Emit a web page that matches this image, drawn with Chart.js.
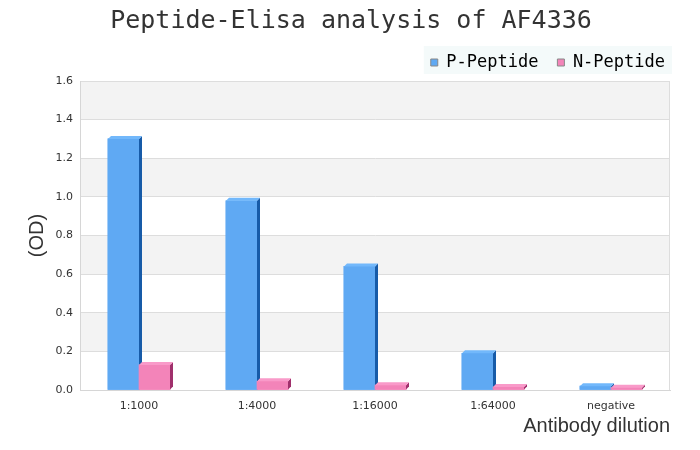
<!DOCTYPE html>
<html>
<head>
<meta charset="utf-8">
<title>Peptide-Elisa analysis of AF4336</title>
<script src="https://cdn.jsdelivr.net/npm/chart.js@4.4.1/dist/chart.umd.min.js"></script>
<style>
    html, body { margin: 0; padding: 0; background: #fff; }
    #wrap { width: 700px; height: 450px; }
</style>
</head>
<body>
<div id="wrap"><canvas id="elisaChart" width="700" height="450"></canvas></div>
<script>
// Chart data
const dilutions = ['1:1000', '1:4000', '1:16000', '1:64000', 'negative'];
const pPeptide = [1.30, 0.98, 0.64, 0.19, 0.02];
const nPeptide = [0.13, 0.045, 0.025, 0.015, 0.012];
const yTicks = [0, 0.2, 0.4, 0.6, 0.8, 1.0, 1.2, 1.4, 1.6];

// colours: front, side, top
const blueFaces = ['#5fa9f3', '#175ba8', '#72b8fb'];
const pinkFaces = ['#f384b9', '#a0306c', '#f99ac9'];

const DEPTH = 3;

// background, stripes and legend box
const backgroundPlugin = {
    id: 'backgroundPlugin',
    afterLayout(chart) {
        // the title is centred a bit right of the plot, the legend sits near the right edge
        chart.titleBlock.left += 16;
        chart.titleBlock.right += 16;
        chart.legend.left += 14;
        chart.legend.right += 14;
    },
    beforeDraw(chart) {
        const ctx = chart.ctx;
        const area = chart.chartArea;
        const y = chart.scales.y;

        ctx.save();
        ctx.fillStyle = '#ffffff';
        ctx.fillRect(0, 0, chart.width, chart.height);

        // alternating grey bands
        ctx.fillStyle = '#f3f3f3';
        for (let i = 1; i < yTicks.length - 1; i += 2) {
            const top = y.getPixelForValue(yTicks[i + 1]);
            const bottom = y.getPixelForValue(yTicks[i]);
            ctx.fillRect(area.left, top, area.right - area.left, bottom - top);
        }

        // plot frame
        ctx.strokeStyle = '#dddddd';
        ctx.lineWidth = 1;
        ctx.strokeRect(area.left + 0.5, area.top + 0.5, area.right - area.left - 1, area.bottom - area.top);

        // legend background
        const boxes = chart.legend.legendHitBoxes;
        if (boxes && boxes.length) {
            const left = Math.min(...boxes.map(b => b.left)) - 7;
            const right = Math.max(...boxes.map(b => b.left + b.width)) + 7;
            const top = Math.min(...boxes.map(b => b.top)) - 8;
            const bottom = Math.max(...boxes.map(b => b.top + b.height)) + 3;
            ctx.fillStyle = '#f4fafa';
            ctx.fillRect(left, top, right - left, bottom - top);
        }
        ctx.restore();
    }
};

// fake 3D: side and top faces on every bar
const bar3dPlugin = {
    id: 'bar3dPlugin',
    afterDatasetsDraw(chart) {
        const ctx = chart.ctx;
        ctx.save();
        chart.data.datasets.forEach((ds, di) => {
            const meta = chart.getDatasetMeta(di);
            const faces = ds.faces;
            meta.data.forEach(bar => {
                const p = bar.getProps(['x', 'y', 'base', 'width'], true);
                const left = p.x - p.width / 2;
                const right = p.x + p.width / 2;

                // redraw front so later bars cover earlier side faces
                bar.draw(ctx);

                ctx.fillStyle = faces[1];
                ctx.beginPath();
                ctx.moveTo(right, p.y);
                ctx.lineTo(right + DEPTH, p.y - DEPTH);
                ctx.lineTo(right + DEPTH, p.base - DEPTH);
                ctx.lineTo(right, p.base);
                ctx.closePath();
                ctx.fill();

                ctx.fillStyle = faces[2];
                ctx.beginPath();
                ctx.moveTo(left, p.y);
                ctx.lineTo(left + DEPTH, p.y - DEPTH);
                ctx.lineTo(right + DEPTH, p.y - DEPTH);
                ctx.lineTo(right, p.y);
                ctx.closePath();
                ctx.fill();
            });
        });
        ctx.restore();
    }
};

function initChart() {
    const ctx = document.getElementById('elisaChart').getContext('2d');
    new Chart(ctx, {
        type: 'bar',
        data: {
            labels: dilutions,
            datasets: [
                {
                    label: 'P-Peptide',
                    data: pPeptide,
                    backgroundColor: blueFaces[0],
                    faces: blueFaces,
                    borderWidth: 0,
                    barThickness: 31
                },
                {
                    label: 'N-Peptide',
                    data: nPeptide,
                    backgroundColor: pinkFaces[0],
                    faces: pinkFaces,
                    borderWidth: 0,
                    barThickness: 31
                }
            ]
        },
        options: {
            responsive: false,
            animation: false,
            devicePixelRatio: 1,
            layout: {
                padding: { left: 0, right: 30, top: 0, bottom: 0 }
            },
            plugins: {
                title: {
                    display: true,
                    text: 'Peptide-Elisa analysis of AF4336',
                    color: '#333333',
                    font: { family: '"DejaVu Sans Mono", monospace', size: 25, weight: 'normal' },
                    padding: { top: 6, bottom: -1 }
                },
                legend: {
                    position: 'top',
                    align: 'end',
                    labels: {
                        color: '#333333',
                        font: { family: '"DejaVu Sans Mono", monospace', size: 17 },
                        boxWidth: 7,
                        boxHeight: 7,
                        padding: 19,
                        generateLabels(chart) {
                            return chart.data.datasets.map((ds, i) => ({
                                text: ds.label,
                                fillStyle: ds.backgroundColor,
                                strokeStyle: '#888888',
                                lineWidth: 1,
                                datasetIndex: i,
                                hidden: false
                            }));
                        }
                    }
                },
                tooltip: { enabled: false }
            },
            scales: {
                x: {
                    grid: { display: false, drawTicks: false },
                    border: { color: '#d6d6d6' },
                    ticks: {
                        color: '#333333',
                        font: { family: '"DejaVu Sans", sans-serif', size: 11 },
                        padding: 10,
                        maxRotation: 0
                    },
                    title: {
                        display: true,
                        text: 'Antibody dilution',
                        align: 'end',
                        color: '#333333',
                        font: { family: '"Liberation Sans", Arial, sans-serif', size: 20 },
                        padding: { top: 0, bottom: 12 }
                    },
                    afterFit(scale) {
                        scale.height = 60;
                    }
                },
                y: {
                    min: 0,
                    max: 1.6,
                    afterBuildTicks(scale) {
                        scale.ticks = yTicks.map(v => ({ value: v }));
                    },
                    grid: { color: '#dddddd', drawTicks: false },
                    border: { color: '#d6d6d6' },
                    ticks: {
                        color: '#333333',
                        font: { family: '"DejaVu Sans", sans-serif', size: 11 },
                        padding: 7,
                        callback: value => Number(value).toFixed(1)
                    },
                    title: {
                        display: true,
                        text: '(OD)',
                        color: '#333333',
                        font: { family: '"Liberation Sans", Arial, sans-serif', size: 20 },
                        padding: { top: 25, bottom: 0 }
                    },
                    afterFit(scale) {
                        scale.width = 80;
                    }
                }
            }
        },
        plugins: [backgroundPlugin, bar3dPlugin]
    });
}

document.addEventListener('DOMContentLoaded', initChart);
</script>
</body>
</html>
